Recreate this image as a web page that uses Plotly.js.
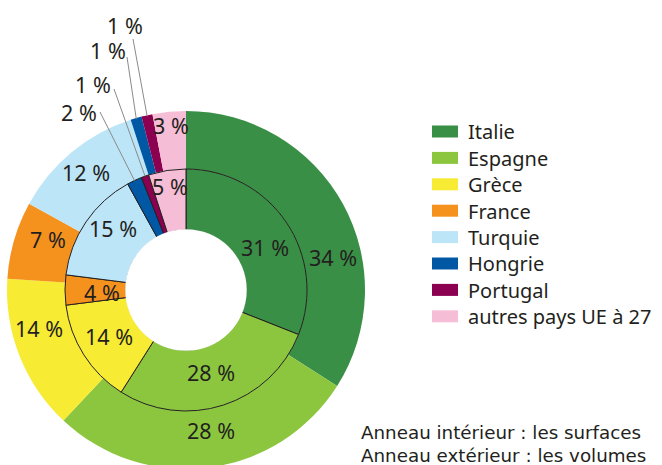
<!DOCTYPE html>
<html>
<head>
<meta charset="utf-8">
<script src="https://cdn.plot.ly/plotly-3.0.1.min.js"></script>
<style>
html,body{margin:0;padding:0;overflow:hidden;background:#fff;}
#chart{width:662px;height:470px;}
</style>
</head>
<body>
<div id="chart"></div>
<script>
// ---- data ----
const labels = ['Italie','Espagne','Grèce','France','Turquie','Hongrie','Portugal','autres pays UE à 27'];
const colors = ['#3a8f46','#8cc63f','#f8eb33','#f5921e','#bde5f8','#0057a4','#8b0051','#f6bdd6'];
const surfaces = [31,28,14,4,15,2,1,5];   // anneau intérieur
const volumes  = [34,28,14,7,12,1,1,3];   // anneau extérieur
const notes = ['Anneau intérieur : les surfaces','Anneau extérieur : les volumes'];

// ---- layout / geometry ----
const W = 662, H = 470;
const cx = 186, cy = 290;
const R_OUT = 179, R_MID = 121, R_HOLE = 60;
const TXT = '#231f20';
const FONT = 'Noto Sans, DejaVu Sans, sans-serif';
const LABEL_SIZE = 21.5;
// label centres (px) for slices labelled in place; null = leader label
const outerLabelPos = [[333,257],[211,430],[39,328],[48,239],[86,173],null,null,[171,125]];
const innerLabelPos = [[265,247],[211,372],[109,336],[102,292],[113,228],null,null,[170,186]];

function px2paper(x, y){ return [x / W, 1 - y / H]; }
function domainFor(r){
  return { x: [(cx - r) / W, (cx + r) / W], y: [(H - cy - r) / H, (H - cy + r) / H] };
}
function midAngle(vals, i){
  const tot = vals.reduce((a, b) => a + b, 0);
  let cum = 0;
  for (let k = 0; k < i; k++) cum += vals[k];
  return (cum + vals[i] / 2) / tot * 2 * Math.PI;
}
function pct(v){ return v + '\u00a0%'; }

const outer = {
  type: 'pie', labels: labels, values: volumes, sort: false, direction: 'clockwise', rotation: 0,
  hole: R_MID / R_OUT, domain: domainFor(R_OUT),
  marker: { colors: colors, line: { width: 0 } },
  textinfo: 'none', hoverinfo: 'none'
};
const inner = {
  type: 'pie', labels: labels, values: surfaces, sort: false, direction: 'clockwise', rotation: 0,
  hole: R_HOLE / R_MID, domain: domainFor(R_MID),
  marker: { colors: colors, line: { width: 1, color: TXT } },
  textinfo: 'none', hoverinfo: 'none', showlegend: false
};

const shapes = [];
const annotations = [];

function addLabel(x, y, text){
  const p = px2paper(x, y);
  annotations.push({ xref: 'paper', yref: 'paper', x: p[0], y: p[1], xanchor: 'center', yanchor: 'middle',
    text: text, showarrow: false, font: { family: FONT, size: LABEL_SIZE, color: TXT } });
}
volumes.forEach((v, i) => { if (outerLabelPos[i]) addLabel(outerLabelPos[i][0], outerLabelPos[i][1], pct(v)); });
surfaces.forEach((v, i) => { if (innerLabelPos[i]) addLabel(innerLabelPos[i][0], innerLabelPos[i][1], pct(v)); });

// leader labels: [values, index, tip radius, label centre px, line start px]
const leaders = [
  [volumes, 6, R_OUT - 1, [125, 26], [133, 39]],
  [volumes, 5, R_OUT - 1, [108, 51], [127, 57]],
  [surfaces, 6, R_MID, [93, 85], [114, 89]],
  [surfaces, 5, R_MID, [79, 112], [100, 112]]
];
leaders.forEach(([vals, i, r, lab, st]) => {
  const a = midAngle(vals, i);
  const tip = px2paper(cx + r * Math.sin(a), cy - r * Math.cos(a));
  const s = px2paper(st[0], st[1]);
  shapes.push({ type: 'line', xref: 'paper', yref: 'paper', x0: s[0], y0: s[1], x1: tip[0], y1: tip[1],
    line: { color: '#8a8a8a', width: 1 }, layer: 'above' });
  addLabel(lab[0], lab[1], pct(vals[i]));
});
// white cover for the hole edge (no outline on the hole)
const h0 = px2paper(cx - R_HOLE - 0.8, cy + R_HOLE + 0.8), h1 = px2paper(cx + R_HOLE + 0.8, cy - R_HOLE - 0.8);
shapes.push({ type: 'circle', xref: 'paper', yref: 'paper', x0: h0[0], y0: h0[1], x1: h1[0], y1: h1[1],
  fillcolor: '#ffffff', line: { width: 0 }, layer: 'above' });

notes.forEach((t, k) => {
  const p = px2paper(359, 432 + k * 23);
  annotations.push({ xref: 'paper', yref: 'paper', x: p[0], y: p[1], xanchor: 'left', yanchor: 'middle',
    text: t, showarrow: false, font: { family: 'DejaVu Sans, Verdana, sans-serif', size: 18.3, color: TXT } });
});

const LEGEND_STEP = 26.4;
const layout = {
  width: W, height: H,
  margin: { l: 0, r: 0, t: 0, b: 0 },
  paper_bgcolor: '#ffffff',
  showlegend: true,
  legend: {
    x: 422 / W, xanchor: 'left', y: 1 - 112 / H, yanchor: 'top',
    font: { family: FONT, size: 20, color: TXT }, itemwidth: 36, traceorder: 'normal',
    bgcolor: 'rgba(0,0,0,0)'
  },
  shapes: shapes,
  annotations: annotations
};

Plotly.newPlot('chart', [outer, inner], layout, { displayModeBar: false, staticPlot: true }).then(() => {
  document.querySelectorAll('path.legendpie').forEach(p => p.setAttribute('d', 'M13,6H-13V-6H13Z'));
  const items = document.querySelectorAll('.legend g.traces');
  if (items.length) {
    const m = /translate\(\s*([-\d.]+)[ ,]+([-\d.]+)/.exec(items[0].getAttribute('transform') || '');
    const x0 = m ? parseFloat(m[1]) : 0, y0 = m ? parseFloat(m[2]) : 0;
    items.forEach((g, i) => g.setAttribute('transform', 'translate(' + x0 + ',' + (y0 + i * LEGEND_STEP) + ')'));
  }
});
</script>
</body>
</html>
